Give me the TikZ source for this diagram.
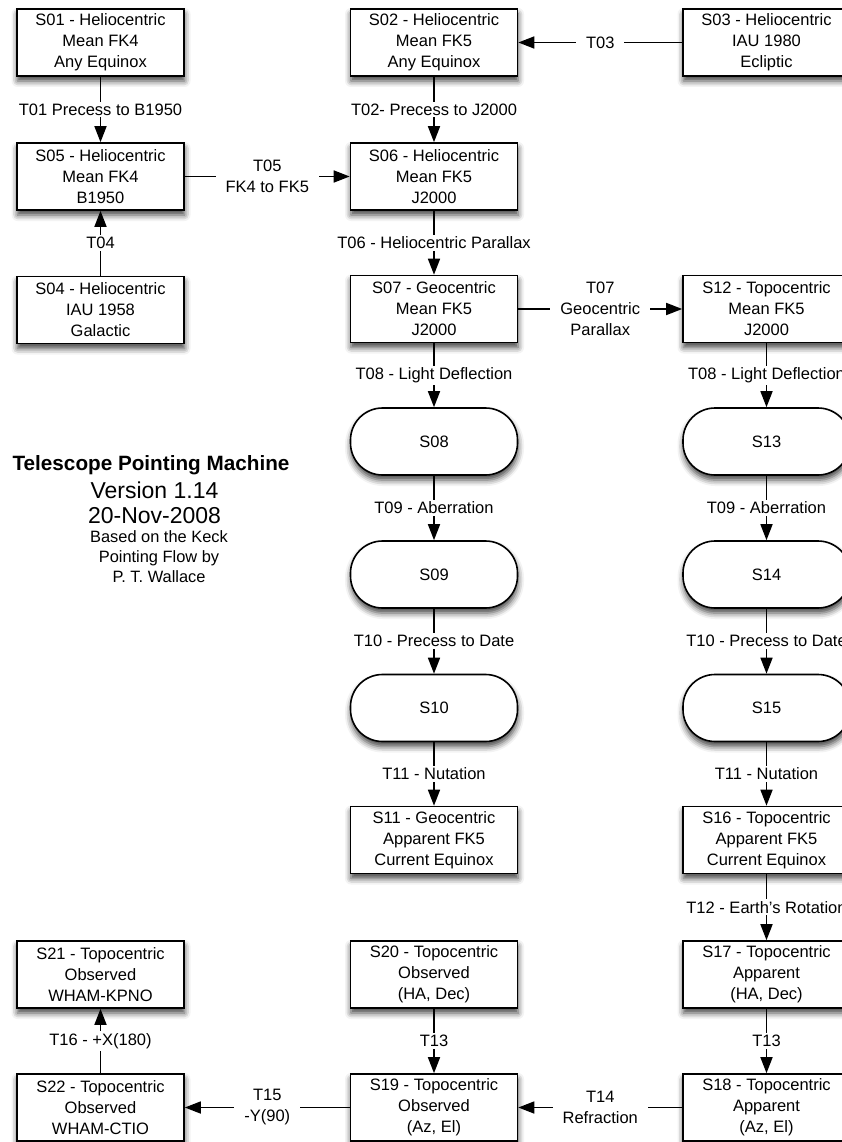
\documentclass[tikz,border=0pt]{standalone}
\usepackage{fontspec}
\setmainfont{Liberation Sans}
\usetikzlibrary{arrows.meta,shadows.blur}
\newcommand\mainfs{\fontsize{16.5}{21}\selectfont}
\begin{document}
\begin{tikzpicture}[x=1pt,y=-1pt,
  state/.style={draw=black, line width=1.6pt, fill=white,
    minimum width=167pt, minimum height=67pt, inner sep=0pt,
    align=center, font=\mainfs,
    blur shadow={shadow xshift=0.5pt, shadow yshift=-5pt,
      shadow blur radius=6pt, shadow opacity=75}},
  pill/.style={state, rounded corners=32pt},
  trans/.style={fill=white, inner xsep=10pt, inner ysep=2pt,
    align=center, font=\mainfs},
  flow/.style={draw=black, line width=1.6pt,
    -{Triangle[length=16pt,width=12pt]}},
]
\useasboundingbox (0,0) rectangle (842,1142);

% column centres
\def\ca{100.5} \def\cb{434} \def\cc{766.5}

% state boxes
\node[state] (s01) at (\ca,42.5) {S01 - Heliocentric\\Mean FK4\\Any Equinox};
\node[state] (s02) at (\cb,42.5) {S02 - Heliocentric\\Mean FK5\\Any Equinox};
\node[state] (s03) at (\cc,42.5) {S03 - Heliocentric\\IAU 1980\\Ecliptic};
\node[state] (s05) at (\ca,176.5) {S05 - Heliocentric\\Mean FK4\\B1950};
\node[state] (s06) at (\cb,176.5) {S06 - Heliocentric\\Mean FK5\\J2000};
\node[state] (s04) at (\ca,310) {S04 - Heliocentric\\IAU 1958\\Galactic};
\node[state] (s07) at (\cb,309) {S07 - Geocentric\\Mean FK5\\J2000};
\node[state] (s12) at (\cc,309) {S12 - Topocentric\\Mean FK5\\J2000};
\node[pill] (s08) at (\cb,441.5) {S08};
\node[pill] (s13) at (\cc,441.5) {S13};
\node[pill] (s09) at (\cb,574.5) {S09};
\node[pill] (s14) at (\cc,574.5) {S14};
\node[pill] (s10) at (\cb,708) {S10};
\node[pill] (s15) at (\cc,708) {S15};
\node[state] (s11) at (\cb,840) {S11 - Geocentric\\Apparent FK5\\Current Equinox};
\node[state] (s16) at (\cc,840) {S16 - Topocentric\\Apparent FK5\\Current Equinox};
\node[state] (s21) at (\ca,974.5) {S21 - Topocentric\\Observed\\WHAM-KPNO};
\node[state] (s20) at (\cb,974.5) {S20 - Topocentric\\Observed\\(HA, Dec)};
\node[state] (s17) at (\cc,974.5) {S17 - Topocentric\\Apparent\\(HA, Dec)};
\node[state] (s22) at (\ca,1107.5) {S22 - Topocentric\\Observed\\WHAM-CTIO};
\node[state] (s19) at (\cb,1107.5) {S19 - Topocentric\\Observed\\(Az, El)};
\node[state] (s18) at (\cc,1107.5) {S18 - Topocentric\\Apparent\\(Az, El)};

% transformations
\draw[flow] (s01) -- node[trans] (t01) {T01 Precess to B1950} (s05);
\draw[flow] (s02) -- node[trans] (t02) {T02- Precess to J2000} (s06);
\draw[flow] (s03) -- node[trans] (t03) {T03} (s02);
\draw[flow] (s04) -- node[trans] (t04) {T04} (s05);
\draw[flow] (s05) -- node[trans] (t05) {T05\\FK4 to FK5} (s06);
\draw[flow] (s06) -- node[trans] (t06) {T06 - Heliocentric Parallax} (s07);
\draw[flow] (s07) -- node[trans] (t07) {T07\\Geocentric\\Parallax} (s12);
\draw[flow] (s07) -- node[trans] (t08a) {T08 - Light Deflection} (s08);
\draw[flow] (s12) -- node[trans] (t08b) {T08 - Light Deflection} (s13);
\draw[flow] (s08) -- node[trans] (t09a) {T09 - Aberration} (s09);
\draw[flow] (s13) -- node[trans] (t09b) {T09 - Aberration} (s14);
\draw[flow] (s09) -- node[trans] (t10a) {T10 - Precess to Date} (s10);
\draw[flow] (s14) -- node[trans] (t10b) {T10 - Precess to Date} (s15);
\draw[flow] (s10) -- node[trans] (t11a) {T11 - Nutation} (s11);
\draw[flow] (s15) -- node[trans] (t11b) {T11 - Nutation} (s16);
\draw[flow] (s16) -- node[trans] (t12) {T12 - Earth's Rotation} (s17);
\draw[flow] (s17) -- node[trans] (t13a) {T13} (s18);
\draw[flow] (s20) -- node[trans] (t13b) {T13} (s19);
\draw[flow] (s18) -- node[trans] (t14) {T14\\Refraction} (s19);
\draw[flow] (s19) -- node[trans] (t15) {T15\\-Y(90)} (s22);
\draw[flow] (s22) -- node[trans] (t16) {T16 - +X(180)} (s21);

% title block
\node[font=\bfseries\fontsize{20.7}{24}\selectfont] (title) at (151,465) {Telescope Pointing Machine};
\node[align=center, font=\fontsize{23}{25}\selectfont] (version) at (154.5,503) {Version 1.14\\20-Nov-2008};
\node[align=center, font=\fontsize{16.4}{20}\selectfont] (credit) at (159,557) {Based on the Keck\\Pointing Flow by\\P. T. Wallace};
\end{tikzpicture}
\end{document}
